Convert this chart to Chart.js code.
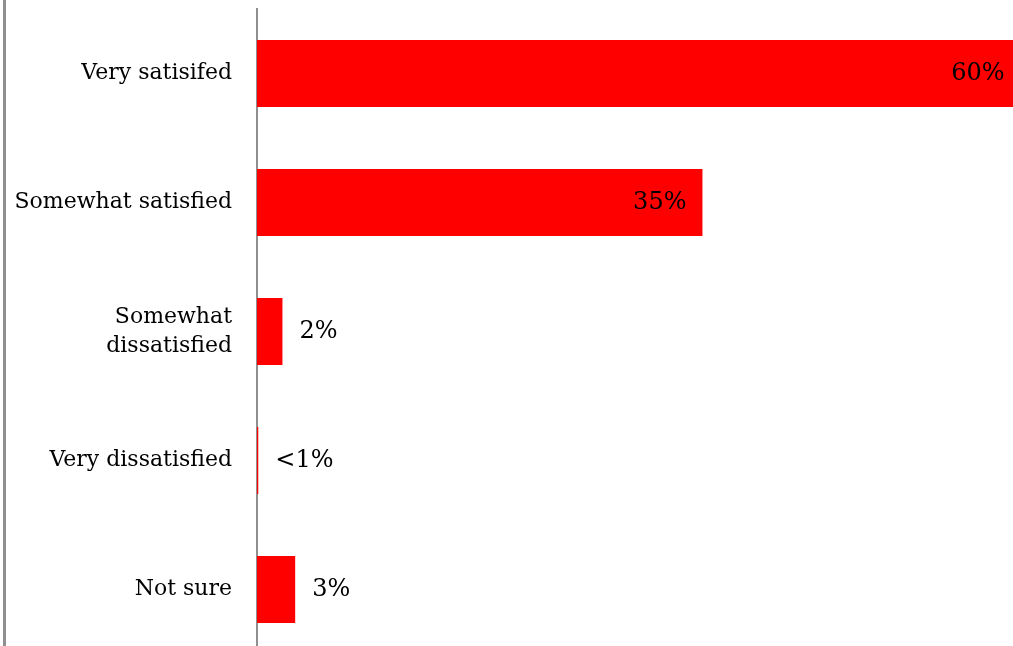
<!DOCTYPE html>
<html>
<head>
<meta charset="utf-8">
<script src="https://cdn.jsdelivr.net/npm/chart.js@4/dist/chart.umd.min.js"></script>
<style>
  html, body { margin: 0; padding: 0; background: #fff; overflow: hidden; }
</style>
</head>
<body>
<canvas id="satisfactionChart" width="1013" height="655"></canvas>
<script>
// survey answers
const categories = ['Very satisifed', 'Somewhat satisfied', ['Somewhat', 'dissatisfied'], 'Very dissatisfied', 'Not sure'];
const shares = [60, 35, 2, 0.1, 3];
const shareLabels = ['60%', '35%', '2%', '<1%', '3%'];

const FONT = '"DejaVu Serif", "Liberation Serif", serif';

// grey rule down the left edge
const leftRule = {
    id: 'leftRule',
    beforeDraw(chart) {
        const c = chart.ctx;
        c.save();
        c.strokeStyle = '#8f8f8f';
        c.lineWidth = 3;
        c.beginPath();
        c.moveTo(4.5, 0);
        c.lineTo(4.5, chart.height);
        c.stroke();
        c.restore();
    }
};

// percent labels: inside the end of long bars, just past the end of short ones
const barLabels = {
    id: 'barLabels',
    afterDatasetsDraw(chart) {
        const c = chart.ctx;
        const meta = chart.getDatasetMeta(0);
        c.save();
        c.font = '24px ' + FONT;
        c.fillStyle = '#000';
        c.textBaseline = 'middle';
        meta.data.forEach((bar, i) => {
            if (shares[i] > 10) {
                c.textAlign = 'right';
                c.fillText(shareLabels[i], Math.min(bar.x, chart.chartArea.right + 8) - 16, bar.y);
            } else {
                c.textAlign = 'left';
                c.fillText(shareLabels[i], bar.x + 17, bar.y);
            }
        });
        c.restore();
    }
};

let ctx = document.getElementById('satisfactionChart').getContext('2d');
let chart = new Chart(ctx, {
    type: 'bar',
    data: {
        labels: categories,
        datasets: [{
            data: shares,
            backgroundColor: '#ff0000',
            borderWidth: 0,
            categoryPercentage: 1,
            barPercentage: 0.52
        }]
    },
    options: {
        indexAxis: 'y',
        responsive: false,
        animation: false,
        layout: { padding: { top: 9, bottom: 1, left: 0, right: 0 } },
        scales: {
            x: { display: false, min: 0, max: 59.4 },
            y: {
                grid: { display: false, drawTicks: false },
                border: { display: true, color: '#8f8f8f', width: 2 },
                ticks: {
                    color: '#000',
                    padding: 25,
                    font: { family: FONT, size: 22, lineHeight: 1.3 }
                },
                afterFit(scale) {
                    scale.width = 257;
                    scale.paddingTop = 0;
                    scale.paddingBottom = 0;
                }
            }
        },
        plugins: {
            legend: { display: false },
            tooltip: { enabled: false }
        }
    },
    plugins: [leftRule, barLabels]
});
</script>
</body>
</html>
